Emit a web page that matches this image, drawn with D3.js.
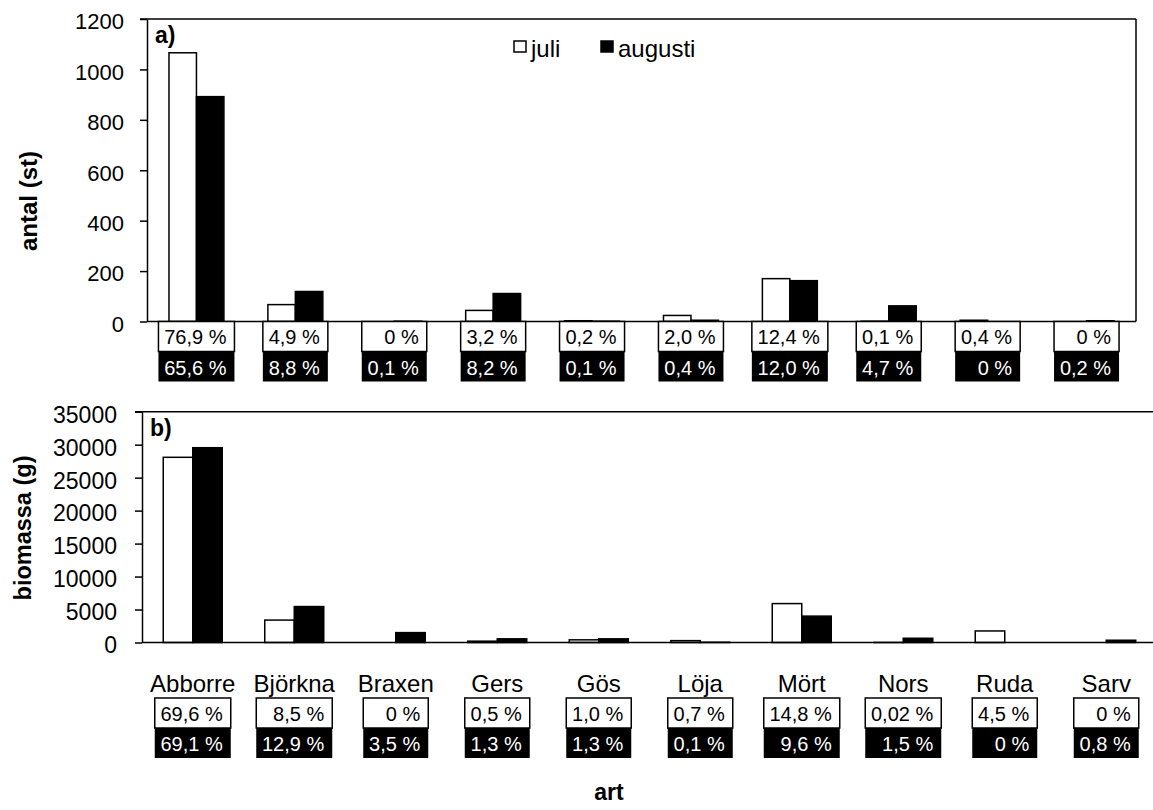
<!DOCTYPE html>
<html>
<head>
<meta charset="utf-8">
<script src="https://cdn.jsdelivr.net/npm/d3@7"></script>
<style>
  body { margin: 0; background: #fff; }
  text { font-family: "Liberation Sans", Arial, sans-serif; }
</style>
</head>
<body>
<div id="chart"></div>
<script>
const W = 1153, H = 810;

const species = ['Abborre', 'Björkna', 'Braxen', 'Gers', 'Gös', 'Löja', 'Mört', 'Nors', 'Ruda', 'Sarv'];
const series = ['juli', 'augusti'];

// a) antal (st)
const antalJuli     = [1066, 67, 0, 44, 3, 24, 170, 1, 5, 0];
const antalAugusti  = [892, 119, 1, 111, 1, 5, 162, 62, 0, 3];
const antalTicks    = [0, 200, 400, 600, 800, 1000, 1200];
const antalPctJuli    = ['76,9 %', '4,9 %', '0 %', '3,2 %', '0,2 %', '2,0 %', '12,4 %', '0,1 %', '0,4 %', '0 %'];
const antalPctAugusti = ['65,6 %', '8,8 %', '0,1 %', '8,2 %', '0,1 %', '0,4 %', '12,0 %', '4,7 %', '0 %', '0,2 %'];

// b) biomassa (g)
const bioJuli     = [28085, 3400, 0, 202, 404, 282, 5900, 8, 1750, 0];
const bioAugusti  = [29540, 5450, 1500, 556, 556, 43, 4000, 641, 0, 342];
const bioTicks    = [0, 5000, 10000, 15000, 20000, 25000, 30000, 35000];
const bioPctJuli    = ['69,6 %', '8,5 %', '0 %', '0,5 %', '1,0 %', '0,7 %', '14,8 %', '0,02 %', '4,5 %', '0 %'];
const bioPctAugusti = ['69,1 %', '12,9 %', '3,5 %', '1,3 %', '1,3 %', '0,1 %', '9,6 %', '1,5 %', '0 %', '0,8 %'];

const svg = d3.select("#chart").append("svg")
    .attr("width", W)
    .attr("height", H);
svg.append("rect").attr("width", W).attr("height", H).attr("fill", "#fff");

function drawPanel(cfg) {
    const g = svg.append("g");
    const x0 = d3.scaleBand().domain(species).range([cfg.left, cfg.right]).padding(0);
    const x1 = d3.scaleBand().domain(series).range([0, x0.bandwidth()])
        .paddingInner(0).paddingOuter(cfg.barPad);
    const y = d3.scaleLinear().domain([0, cfg.max]).range([cfg.bottom, cfg.top]);

    // bars
    const rows = species.map((s, i) => ({ s, juli: cfg.juli[i], augusti: cfg.augusti[i] }));
    const grp = g.selectAll(".grp").data(rows).enter().append("g")
        .attr("transform", d => `translate(${x0(d.s)},0)`);
    grp.selectAll("rect").data(d => series.map(k => ({ k, v: d[k] }))).enter()
        .filter(d => d.v > 0)
        .append("rect")
        .attr("x", d => x1(d.k))
        .attr("width", x1.bandwidth())
        .attr("y", d => y(d.v))
        .attr("height", d => y(0) - y(d.v))
        .attr("fill", d => d.k === 'juli' ? '#fff' : '#000')
        .attr("stroke", "#000")
        .attr("stroke-width", 1.5);

    // frame lines
    g.append("line").attr("x1", cfg.left - 7).attr("x2", cfg.frameRight)
        .attr("y1", cfg.top).attr("y2", cfg.top)
        .attr("stroke", "#000").attr("stroke-width", 1.5);
    if (cfg.closeRight) {
        g.append("line").attr("x1", cfg.frameRight).attr("x2", cfg.frameRight)
            .attr("y1", cfg.top).attr("y2", cfg.bottom)
            .attr("stroke", "#000").attr("stroke-width", 1.5);
    }
    g.append("line").attr("x1", cfg.left).attr("x2", cfg.frameRight)
        .attr("y1", cfg.bottom).attr("y2", cfg.bottom)
        .attr("stroke", "#000").attr("stroke-width", 1.5);

    // y axis
    const yAxis = d3.axisLeft(y).tickValues(cfg.ticks).tickSize(7).tickSizeOuter(0)
        .tickFormat(d3.format("d")).tickPadding(cfg.tickPad);
    const ya = g.append("g").attr("transform", `translate(${cfg.left},0)`).call(yAxis);
    ya.select(".domain").attr("stroke", "#000").attr("stroke-width", 1.5);
    ya.selectAll(".tick line").attr("stroke", "#000").attr("stroke-width", 1.5);
    ya.selectAll(".tick text")
        .attr("font-size", cfg.tickFont)
        .attr("fill", "#000")
        .attr("dy", "0.45em")
        .style("font-family", '"Liberation Sans", Arial, sans-serif');

    // axis title
    g.append("text")
        .attr("transform", `translate(${cfg.titleX},${cfg.titleY}) rotate(-90)`)
        .attr("text-anchor", "middle")
        .attr("font-size", cfg.titleFont)
        .attr("font-weight", "bold")
        .text(cfg.title);

    // panel letter
    g.append("text")
        .attr("x", cfg.left + 8).attr("y", cfg.top + 24)
        .attr("font-size", 23).attr("font-weight", "bold")
        .text(cfg.letter);

    // percentage boxes
    const boxes = g.selectAll(".pct").data(species).enter().append("g")
        .attr("transform", d => `translate(${x0(d) + x0.bandwidth() / 2},0)`);
    boxes.each(function (d, i) {
        const b = d3.select(this);
        const tj = cfg.pctJuli[i], ta = cfg.pctAugusti[i];
        const bw = (tj.length >= 6 || ta.length >= 6) ? 76 : 65;
        b.append("rect")
            .attr("x", -bw / 2).attr("y", cfg.boxTop)
            .attr("width", bw).attr("height", 30)
            .attr("fill", "#fff").attr("stroke", "#000").attr("stroke-width", 1.5);
        b.append("text")
            .attr("x", bw / 2 - 8).attr("y", cfg.boxTop + 22.5)
            .attr("text-anchor", "end").attr("font-size", 20).attr("fill", "#000")
            .text(tj);
        b.append("rect")
            .attr("x", -bw / 2).attr("y", cfg.boxTop + 30)
            .attr("width", bw).attr("height", 30)
            .attr("fill", "#000");
        b.append("text")
            .attr("x", bw / 2 - 8).attr("y", cfg.boxTop + 53)
            .attr("text-anchor", "end").attr("font-size", 20).attr("fill", "#fff")
            .text(ta);
    });

    return x0;
}

drawPanel({
    left: 147, right: 1136, frameRight: 1136, closeRight: true,
    top: 19, bottom: 321.5, max: 1200, ticks: antalTicks,
    tickFont: 22, tickPad: 16,
    juli: antalJuli, augusti: antalAugusti, barPad: 0.8,
    title: 'antal (st)', titleX: 37, titleY: 201, titleFont: 24, letter: 'a)',
    pctJuli: antalPctJuli, pctAugusti: antalPctAugusti, boxTop: 321.5
});

const xb = drawPanel({
    left: 142, right: 1157, frameRight: 1153, closeRight: false,
    top: 411.7, bottom: 642.5, max: 35000, ticks: bioTicks,
    tickFont: 23, tickPad: 18,
    juli: bioJuli, augusti: bioAugusti, barPad: 0.72,
    title: 'biomassa (g)', titleX: 31, titleY: 528, titleFont: 23.5, letter: 'b)',
    pctJuli: bioPctJuli, pctAugusti: bioPctAugusti, boxTop: 698
});

// category labels below panel b
svg.append("g").selectAll("text").data(species).enter().append("text")
    .attr("x", d => xb(d) + xb.bandwidth() / 2)
    .attr("y", 692)
    .attr("text-anchor", "middle")
    .attr("font-size", 24)
    .text(d => d);

// x axis title
svg.append("text")
    .attr("x", 609).attr("y", 800)
    .attr("text-anchor", "middle")
    .attr("font-size", 23).attr("font-weight", "bold")
    .text("art");

// legend
const legend = svg.append("g");
const legendItems = [
    { k: 'juli', fill: '#fff', x: 514 },
    { k: 'augusti', fill: '#000', x: 601 }
];
legend.selectAll("rect").data(legendItems).enter().append("rect")
    .attr("x", d => d.x).attr("y", 41)
    .attr("width", 12).attr("height", 11)
    .attr("fill", d => d.fill).attr("stroke", "#000").attr("stroke-width", 1.5);
legend.selectAll("text").data(legendItems).enter().append("text")
    .attr("x", d => d.x + 17).attr("y", 57)
    .attr("font-size", 24)
    .text(d => d.k);
</script>
</body>
</html>
